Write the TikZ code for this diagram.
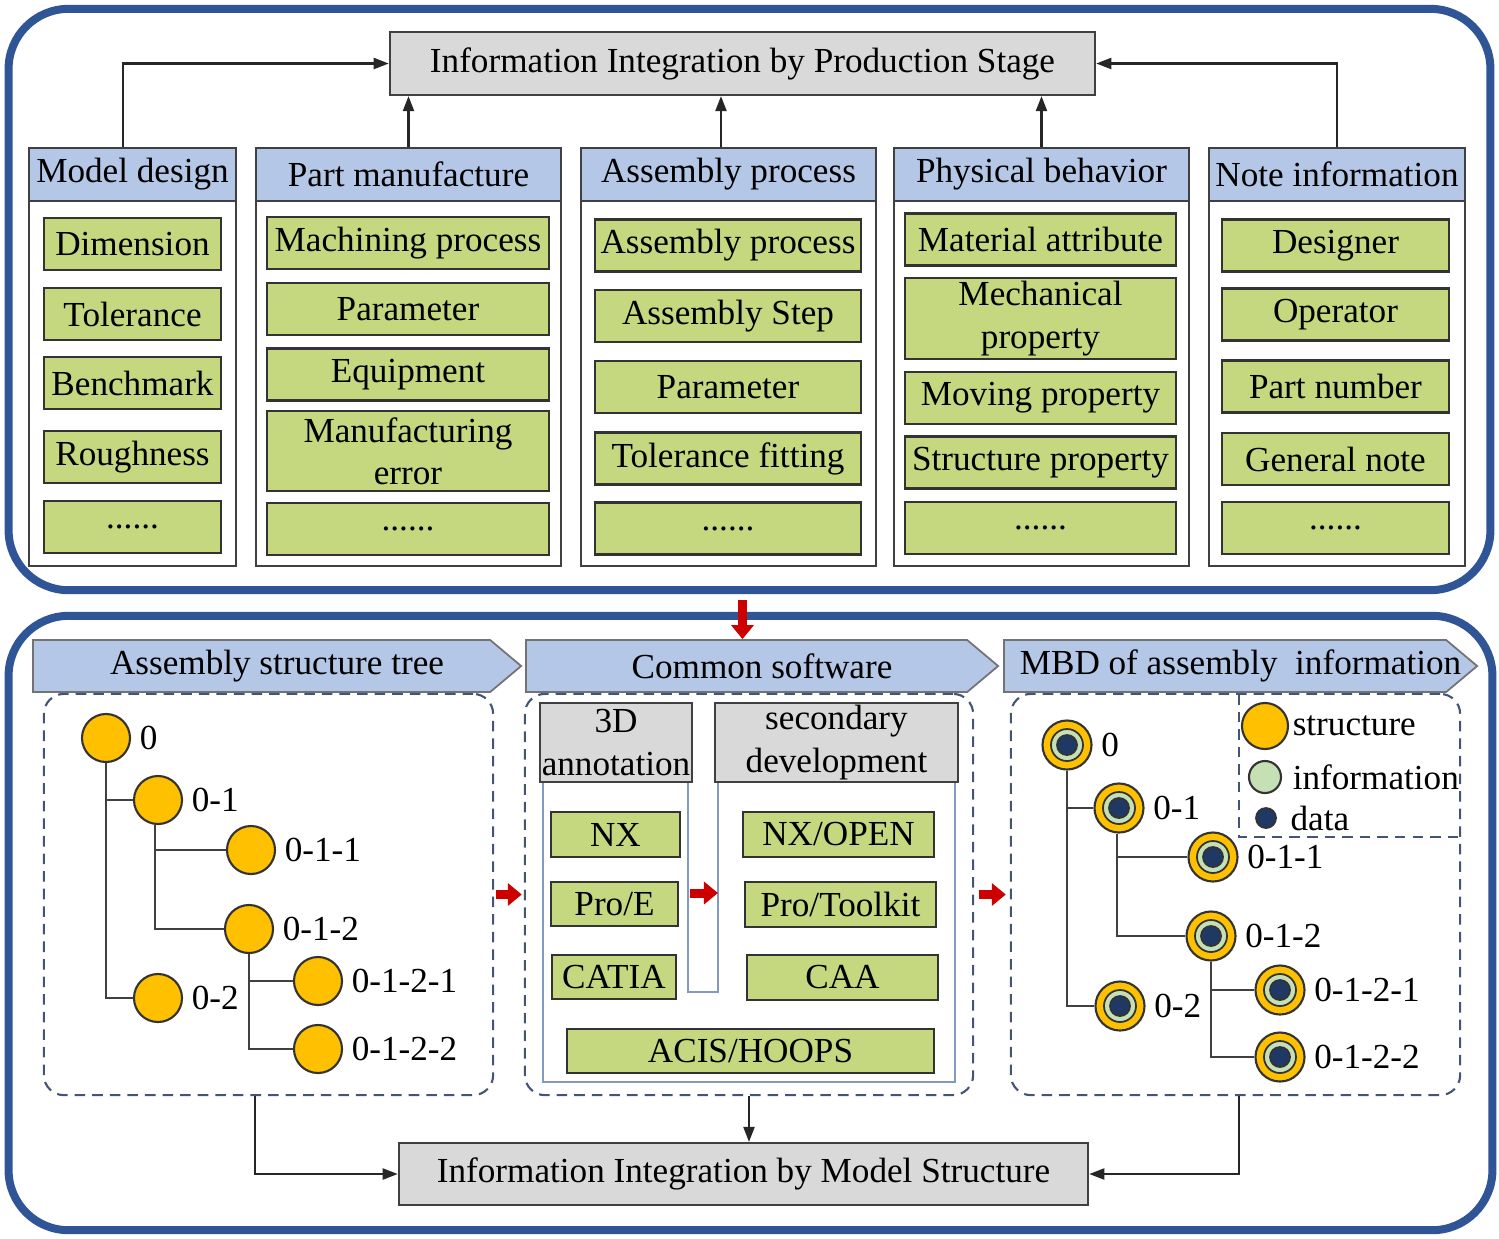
\documentclass[tikz,border=0pt]{standalone}
\usepackage{fontspec}
\setmainfont{Liberation Serif}
\usetikzlibrary{positioning, arrows.meta, shapes.symbols}
\definecolor{panelblue}{RGB}{47,85,151}
\definecolor{headblue}{RGB}{180,199,231}
\definecolor{itemgreen}{RGB}{197,216,128}
\definecolor{stagegray}{RGB}{217,217,217}
\definecolor{structorange}{RGB}{255,192,0}
\definecolor{infogreen}{RGB}{197,224,180}
\definecolor{datanavy}{RGB}{31,56,100}
\definecolor{dashblue}{RGB}{68,84,120}
\definecolor{arrowred}{RGB}{204,0,0}
\tikzset{
  panel/.style    = {draw=panelblue, line width=0.08cm, rounded corners=0.6cm},
  stage/.style    = {draw=black!75, fill=stagegray, line width=0.6pt, inner sep=0pt},
  colhead/.style  = {draw=black!75, fill=headblue, line width=0.6pt, minimum height=0.53cm, inner sep=0pt},
  colbody/.style  = {draw=black!75, fill=white, line width=0.6pt},
  item/.style     = {draw=black!80, fill=itemgreen, line width=0.6pt, minimum width=#1, minimum height=0.52cm, align=center, inner sep=0pt},
  banner/.style   = {shape=signal, signal to=east, signal pointer angle=80, draw=black!55, fill=headblue, line width=0.5pt, minimum height=0.52cm, inner sep=0pt, anchor=west},
  dashbox/.style  = {draw=dashblue, densely dashed, line width=0.6pt, rounded corners=0.2cm},
  subhead/.style  = {draw=black!75, fill=stagegray, line width=0.6pt, align=center, inner sep=0pt, minimum height=0.79cm},
  outline/.style  = {draw=panelblue!60, line width=0.6pt},
  struct/.style   = {circle, draw=black!80, fill=structorange, line width=0.6pt, minimum size=0.48cm, inner sep=0pt},
  ring/.style     = {struct, minimum size=0.49cm, path picture={
      \draw[fill=infogreen, line width=0.5pt] (path picture bounding box.center) circle[radius=0.16cm];
      \draw[fill=datanavy, line width=0.5pt] (path picture bounding box.center) circle[radius=0.1cm];}},
  treeline/.style = {draw=black!75, line width=0.6pt},
  lbl/.style      = {inner sep=0pt},
  arrow/.style    = {-{Triangle[length=0.15cm, width=0.11cm]}, line width=0.6pt, draw=black!85},
  redarrow/.style = {-{Triangle[length=0.14cm, width=0.22cm]}, line width=0.09cm, draw=arrowred}
}
% banner text, shifted to sit centred on the whole arrow
\newcommand{\bantext}[1]{\hspace*{0.155cm}#1\hspace*{-0.155cm}}

\begin{document}
\begin{tikzpicture}[x=0.01cm, y=-0.01cm, font=\fontsize{10}{12}\selectfont, label distance=0.08cm]
  \useasboundingbox (0,0) rectangle (1499,1238);

  % two panels
  \node[panel, minimum width=14.81cm, minimum height=5.81cm] (top) at (749.5,299.5) {};
  \node[panel, minimum width=14.83cm, minimum height=6.14cm] (bottom) at (750.5,923) {};

  % production stage
  \node[stage, minimum width=7.05cm, minimum height=0.63cm] (stage) at (742.5,63.5) {Information Integration by Production Stage};

  \node[colbody, minimum width=2.07cm, minimum height=3.65cm] (mdbody) at (132.5,383.5) {};
  \node[colhead, minimum width=2.07cm] (md) at (132.5,174.5) {Model design};
  \node[item=1.77cm] (md1) at (132.5,244) {Dimension};
  \node[item=1.77cm] (md2) at (132.5,314) {Tolerance};
  \node[item=1.77cm] (md3) at (132.5,383) {Benchmark};
  \node[item=1.77cm] (md4) at (132.5,457) {Roughness};
  \node[item=1.77cm] (md5) at (132.5,527) {......};

  \node[colbody, minimum width=3.05cm, minimum height=3.65cm] (pmbody) at (408.5,383.5) {};
  \node[colhead, minimum width=3.05cm] (pm) at (408.5,174.5) {Part manufacture};
  \node[item=2.82cm] (pm1) at (408,243) {Machining process};
  \node[item=2.82cm] (pm2) at (408,309) {Parameter};
  \node[item=2.82cm] (pm3) at (408,374.5) {Equipment};
  \node[item=2.82cm, minimum height=0.8cm] (pm4) at (408,451) {Manufacturing\\error};
  \node[item=2.82cm] (pm5) at (408,529) {......};

  \node[colbody, minimum width=2.95cm, minimum height=3.65cm] (apbody) at (728.5,383.5) {};
  \node[colhead, minimum width=2.95cm] (ap) at (728.5,174.5) {Assembly process};
  \node[item=2.66cm] (ap1) at (728,245.5) {Assembly process};
  \node[item=2.66cm] (ap2) at (728,316) {Assembly Step};
  \node[item=2.66cm] (ap3) at (728,387) {Parameter};
  \node[item=2.66cm] (ap4) at (728,458.5) {Tolerance fitting};
  \node[item=2.66cm] (ap5) at (728,528.5) {......};

  \node[colbody, minimum width=2.95cm, minimum height=3.65cm] (pbbody) at (1041.5,383.5) {};
  \node[colhead, minimum width=2.95cm] (pb) at (1041.5,174.5) {Physical behavior};
  \node[item=2.71cm] (pb1) at (1040.5,239.5) {Material attribute};
  \node[item=2.71cm, minimum height=0.81cm] (pb2) at (1040.5,318.5) {Mechanical\\property};
  \node[item=2.71cm] (pb3) at (1040.5,398) {Moving property};
  \node[item=2.71cm] (pb4) at (1040.5,462.5) {Structure property};
  \node[item=2.71cm] (pb5) at (1040.5,528) {......};

  \node[colbody, minimum width=2.56cm, minimum height=3.65cm] (nibody) at (1337,383.5) {};
  \node[colhead, minimum width=2.56cm] (ni) at (1337,174.5) {Note information};
  \node[item=2.27cm] (ni1) at (1335.5,245.5) {Designer};
  \node[item=2.27cm] (ni2) at (1335.5,314.5) {Operator};
  \node[item=2.27cm] (ni3) at (1335.5,386.5) {Part number};
  \node[item=2.27cm] (ni4) at (1335.5,459) {General note};
  \node[item=2.27cm] (ni5) at (1335.5,528) {......};

  \draw[arrow] ([xshift=-0.095cm]md.north) |- (stage.west);
  \draw[arrow] (pm.north) -- (pm.north |- stage.south);
  \draw[arrow] ([xshift=-0.075cm]ap.north) -- ([xshift=-0.075cm]ap.north |- stage.south);
  \draw[arrow] (pb.north) -- (pb.north |- stage.south);
  \draw[arrow] (ni.north) |- (stage.east);

  % model structure
  \node[banner, minimum width=4.88cm] (astb) at (32,666) {\bantext{Assembly structure tree}};
  \node[banner, minimum width=4.72cm] (csb) at (525,666) {\bantext{Common software}};
  \node[banner, minimum width=4.73cm] (mbdb) at (1003,666) {\bantext{MBD of assembly~ information}};

  \draw[redarrow, shorten <=0.06cm] (stage.south |- top.south) -- (stage.south |- csb.north);

  \node[dashbox, minimum width=4.49cm, minimum height=4.01cm] (tree1) at (268.5,894.5) {};
  \node[dashbox, minimum width=4.48cm, minimum height=4.01cm] (soft) at (749,894.5) {};
  \node[dashbox, minimum width=4.49cm, minimum height=4.01cm] (mbd) at (1235.5,894.5) {};

  % assembly tree
  \node[struct, label={[lbl]right:0}] (n0) at (106,738) {};
  \node[struct, label={[lbl]right:0-1}] (n01) at (158,800) {};
  \node[struct, label={[lbl]right:0-1-1}] (n011) at (251,850) {};
  \node[struct, label={[lbl]right:0-1-2}] (n012) at (249,929) {};
  \node[struct, label={[lbl]right:0-2}] (n02) at (158,998) {};
  \node[struct, label={[lbl]right:0-1-2-1}] (n0121) at (318,981) {};
  \node[struct, label={[lbl]right:0-1-2-2}] (n0122) at (318,1049) {};
  \draw[treeline] (n0.south) |- (n01.west);
  \draw[treeline] (n0.south) |- (n02.west);
  \draw[treeline] ([xshift=-0.03cm]n01.south) |- (n011.west);
  \draw[treeline] ([xshift=-0.03cm]n01.south) |- (n012.west);
  \draw[treeline] (n012.south) |- (n0121.west);
  \draw[treeline] (n012.south) |- (n0122.west);

  % software
  \node[subhead, minimum width=1.52cm] (ann) at (616,742.5) {3D\\annotation};
  \node[subhead, minimum width=2.43cm] (dev) at (836.5,742.5) {secondary\\development};
  \draw[outline] (543,783) -- (543,1082) -- (955,1082) -- (955,783);
  \draw[outline] (688,783) -- (688,992) -- (718,992) -- (718,783);
  \node[item=1.29cm, minimum height=0.45cm] (nx) at (615.5,834.5) {NX};
  \node[item=1.27cm, minimum height=0.44cm] (proe) at (614.5,904) {Pro/E};
  \node[item=1.24cm, minimum height=0.44cm] (catia) at (614,977) {CATIA};
  \node[item=1.91cm, minimum height=0.45cm] (nxopen) at (838.5,834.5) {NX/OPEN};
  \node[item=1.91cm, minimum height=0.45cm] (protk) at (840.5,904.5) {Pro/Toolkit};
  \node[item=1.91cm, minimum height=0.45cm] (caa) at (842.5,977.5) {CAA};
  \node[item=3.67cm, minimum height=0.44cm] (acis) at (750.5,1051) {ACIS/HOOPS};
  \coordinate (gapL) at (690,893);
  \coordinate (gapR) at (718,893);
  \draw[redarrow] (gapL) -- (gapR);

  % MBD tree
  \node[ring, label={[lbl]right:0}] (m0) at (1067,745) {};
  \node[ring, label={[lbl]right:0-1}] (m01) at (1119,808) {};
  \node[ring, label={[lbl]right:0-1-1}] (m011) at (1213,857) {};
  \node[ring, label={[lbl]right:0-1-2}] (m012) at (1211,936) {};
  \node[ring, label={[lbl]right:0-2}] (m02) at (1120,1006) {};
  \node[ring, label={[lbl]right:0-1-2-1}] (m0121) at (1280,990) {};
  \node[ring, label={[lbl]right:0-1-2-2}] (m0122) at (1280,1057) {};
  \draw[treeline] (m0.south) |- (m01.west);
  \draw[treeline] (m0.south) |- (m02.west);
  \draw[treeline] ([xshift=-0.02cm]m01.south) |- (m011.west);
  \draw[treeline] ([xshift=-0.02cm]m01.south) |- (m012.west);
  \draw[treeline] (m012.south) |- (m0121.west);
  \draw[treeline] (m012.south) |- (m0122.west);

  % legend
  \draw[dashbox, rounded corners=0] (1239,694) -- (1239,837) -- (1460,837);
  \node[struct, minimum size=0.46cm, label={[lbl, label distance=0.03cm]right:structure}] (legS) at (1265,726) {};
  \node[circle, draw=black!80, fill=infogreen, line width=0.6pt, minimum size=0.32cm, inner sep=0pt, label={[lbl, label distance=0.1cm]right:information}] (legI) at (1265,777) {};
  \node[circle, draw=black!80, fill=datanavy, line width=0.5pt, minimum size=0.2cm, inner sep=0pt, label={[lbl, label distance=0.13cm]right:data}] (legD) at (1266,818) {};

  \draw[redarrow, shorten <=0.02cm, shorten >=0.02cm] (tree1.east) -- (soft.west);
  \draw[redarrow, shorten <=0.05cm, shorten >=0.04cm] (soft.east) -- (mbd.west);

  \node[stage, minimum width=6.89cm, minimum height=0.62cm] (model) at (743.5,1174) {Information Integration by Model Structure};
  \draw[arrow] ([xshift=-0.135cm]tree1.south) |- (model.west);
  \draw[arrow] (soft.south) -- (soft.south |- model.north);
  \draw[arrow] ([xshift=0.035cm]mbd.south) |- (model.east);
\end{tikzpicture}
\end{document}
